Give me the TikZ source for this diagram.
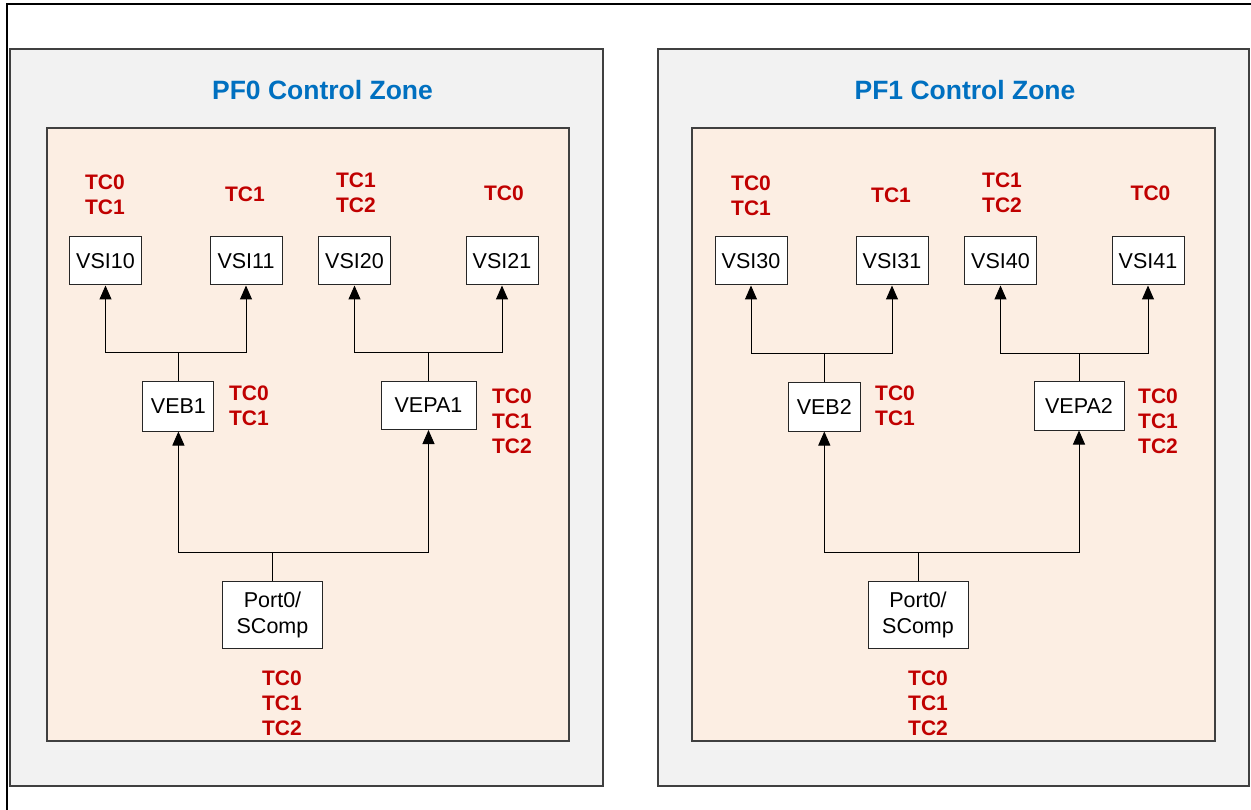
\documentclass[tikz,border=0pt]{standalone}
\usepackage{fontspec}
\setmainfont{Liberation Sans}
\usetikzlibrary{arrows.meta}
\definecolor{zonegray}{RGB}{242,242,242}
\definecolor{peach}{RGB}{252,238,227}
\definecolor{titleblue}{RGB}{0,112,192}
\definecolor{tcred}{RGB}{192,0,0}
\definecolor{edgegray}{RGB}{64,64,64}
\begin{document}
\begin{tikzpicture}[x=1pt,y=-1pt,
 zonebox/.style={draw=edgegray, fill=zonegray, line width=1.3pt},
 innerbox/.style={draw=edgegray, fill=peach, line width=1.3pt},
 blk/.style={draw=black!85, fill=white, line width=1pt, inner sep=0pt, font=\fontsize{21.5}{26}\selectfont, align=center},
 tc/.style={text=tcred, font=\fontsize{21}{25}\selectfont\bfseries, align=center, inner sep=0pt},
 title/.style={text=titleblue, font=\fontsize{26.5}{30}\selectfont\bfseries, inner sep=0pt},
 conn/.style={draw=black, line width=1pt},
 arr/.style={conn, -{Triangle[length=14pt,width=12pt]}}
]
\useasboundingbox (0,0) rectangle (1251,810);
\fill[white] (0,0) rectangle (1251,810);
\draw[line width=2.5pt] (7,810) -- (7,4) -- (1251,4);

% ---------- PF0 zone ----------
\draw[zonebox] (10,49) rectangle (603,786);
\draw[innerbox] (47,128) rectangle (569,741);
\node[title] (t0) at (322.5,90) {PF0 Control Zone};

\node[blk, minimum width=72pt, minimum height=48pt] (vsi10) at (105.5,261) {VSI10};
\node[blk, minimum width=72pt, minimum height=48pt] (vsi11) at (246,261) {VSI11};
\node[blk, minimum width=72pt, minimum height=48pt] (vsi20) at (354.5,261) {VSI20};
\node[blk, minimum width=72pt, minimum height=48pt] (vsi21) at (502,261) {VSI21};
\node[blk, minimum width=71pt, minimum height=49pt] (veb1) at (178.4,406.5) {VEB1};
\node[blk, minimum width=95pt, minimum height=48pt] (vepa1) at (428.5,405.5) {VEPA1};
\node[blk, minimum width=100pt, minimum height=67pt] (port1) at (272.5,614.5) {Port0/\\SComp};

\coordinate (ja) at (178.4,353);
\coordinate (jb) at (428.5,353);
\coordinate (jc) at (272.5,552);
\draw[conn] (veb1) -- (ja);
\draw[arr] (ja) -| (vsi10);
\draw[arr] (ja) -| (vsi11);
\draw[conn] (vepa1) -- (jb);
\draw[arr] (jb) -| (vsi20);
\draw[arr] (jb) -| (vsi21);
\draw[conn] (port1) -- (jc);
\draw[arr] (jc) -| (veb1);
\draw[arr] (jc) -| (vepa1);

\node[tc] (l10) at (105,194.5) {TC0\\TC1};
\node[tc] (l11) at (245,194) {TC1};
\node[tc] (l20) at (356,193) {TC1\\TC2};
\node[tc] (l21) at (504,193) {TC0};
\node[tc] (lveb1) at (249,405.5) {TC0\\TC1};
\node[tc] (lvepa1) at (512,421) {TC0\\TC1\\TC2};
\node[tc] (lport1) at (282,703) {TC0\\TC1\\TC2};

% ---------- PF1 zone ----------
\draw[zonebox] (658,49) rectangle (1249,786);
\draw[innerbox] (692,128) rectangle (1215,741);
\node[title] (t1) at (965,90) {PF1 Control Zone};

\node[blk, minimum width=72pt, minimum height=48pt] (vsi30) at (751,261) {VSI30};
\node[blk, minimum width=72pt, minimum height=48pt] (vsi31) at (892,261) {VSI31};
\node[blk, minimum width=72pt, minimum height=48pt] (vsi40) at (1000.5,261) {VSI40};
\node[blk, minimum width=72pt, minimum height=48pt] (vsi41) at (1148,261) {VSI41};
\node[blk, minimum width=72pt, minimum height=48pt] (veb2) at (824.3,407) {VEB2};
\node[blk, minimum width=90pt, minimum height=48pt] (vepa2) at (1079,406) {VEPA2};
\node[blk, minimum width=100pt, minimum height=67pt] (port2) at (918,614.5) {Port0/\\SComp};

\coordinate (jd) at (824.3,354);
\coordinate (je) at (1079,354);
\coordinate (jf) at (918,552);
\draw[conn] (veb2) -- (jd);
\draw[arr] (jd) -| (vsi30);
\draw[arr] (jd) -| (vsi31);
\draw[conn] (vepa2) -- (je);
\draw[arr] (je) -| (vsi40);
\draw[arr] (je) -| (vsi41);
\draw[conn] (port2) -- (jf);
\draw[arr] (jf) -| (veb2);
\draw[arr] (jf) -| (vepa2);

\node[tc] (l30) at (751,195.5) {TC0\\TC1};
\node[tc] (l31) at (891,195) {TC1};
\node[tc] (l40) at (1002,193) {TC1\\TC2};
\node[tc] (l41) at (1150.5,193) {TC0};
\node[tc] (lveb2) at (895,405.5) {TC0\\TC1};
\node[tc] (lvepa2) at (1158,421) {TC0\\TC1\\TC2};
\node[tc] (lport2) at (928,703) {TC0\\TC1\\TC2};
\end{tikzpicture}
\end{document}
